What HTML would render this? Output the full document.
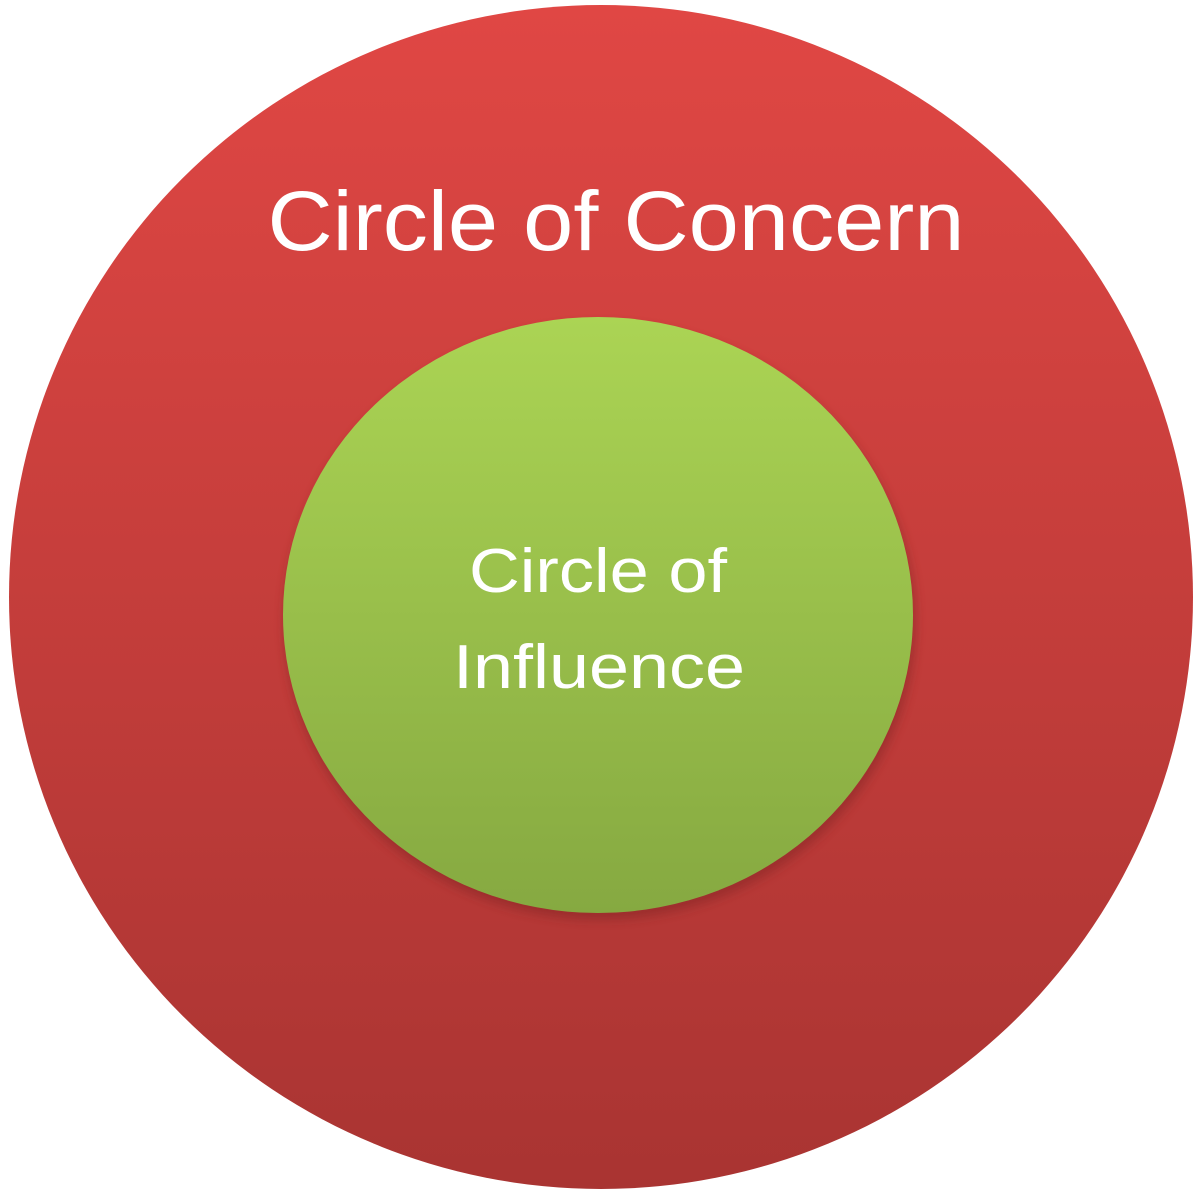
<!DOCTYPE html>
<html><head><style>html,body{margin:0;padding:0;background:#fff;width:1200px;height:1200px;overflow:hidden}</style></head>
<body>
<svg width="1200" height="1200" viewBox="0 0 1200 1200" xmlns="http://www.w3.org/2000/svg">
<defs>
<linearGradient id="r" x1="0" y1="0" x2="0" y2="1">
<stop offset="0" stop-color="#e04744"/><stop offset="1" stop-color="#a93432"/>
</linearGradient>
<linearGradient id="g" x1="0" y1="0" x2="0" y2="1">
<stop offset="0" stop-color="#abd454"/><stop offset="1" stop-color="#86a941"/>
</linearGradient>
<filter id="s" x="-10%" y="-10%" width="120%" height="120%"><feGaussianBlur stdDeviation="5"/></filter>
</defs>
<circle cx="601" cy="597" r="592" fill="url(#r)"/>
<ellipse cx="600" cy="622" rx="316" ry="298" fill="#7a2422" opacity="0.45" filter="url(#s)"/>
<ellipse cx="598" cy="615" rx="315" ry="298" fill="url(#g)"/>
<g font-family="'Liberation Sans', sans-serif" fill="#fff" text-anchor="middle">
<text x="616" y="250" font-size="84" textLength="697" lengthAdjust="spacingAndGlyphs">Circle of Concern</text>
<text x="598" y="592" font-size="62" textLength="258" lengthAdjust="spacingAndGlyphs">Circle of</text>
<text x="599" y="688" font-size="62" textLength="292" lengthAdjust="spacingAndGlyphs">Influence</text>
</g>
</svg>
</body></html>
